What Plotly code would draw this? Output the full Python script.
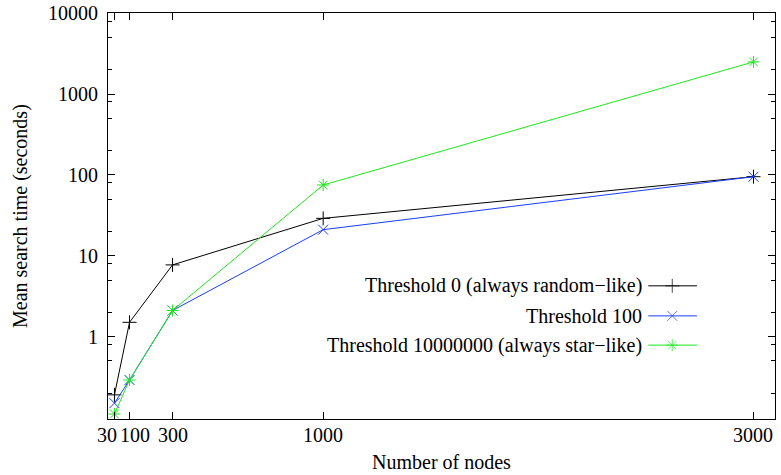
import plotly.graph_objects as go

nodes = [30, 100, 300, 1000, 3000]
thr0 = [0.19, 1.5, 7.7, 29, 95]
thr100 = [0.15, 0.29, 2.1, 21, 95]
thr1e7 = [0.11, 0.29, 2.1, 75, 2500]
names = ["Threshold 0 (always random\u2212like)", "Threshold 100",
         "Threshold 10000000 (always star\u2212like)"]
colors = ["#000000", "#1a3cff", "#1ee61e"]
symbols = ["cross-thin", "x-thin", "asterisk"]
xticks = [30, 100, 300, 1000, 3000]
xlabels = ["30", "100", "300", "1000", "3000"]
yticks = [1, 10, 100, 1000, 10000]

FONT = "Liberation Serif"
FS = 20
fig = go.Figure()
for ys, nm, c, s in zip([thr0, thr100, thr1e7], names, colors, symbols):
    fig.add_trace(go.Scatter(x=nodes, y=ys, mode="lines+markers", name=nm,
                             line=dict(color=c, width=1),
                             marker=dict(symbol=s, size=10, color=c,
                                         line=dict(color=c, width=1)),
                             showlegend=False))

# custom gnuplot-style key (text right, sample to its right)
key_y = [0.328, 0.254, 0.182]
for nm, c, s, ky in zip(names, colors, symbols, key_y):
    fig.add_trace(go.Scatter(x=[0.81, 0.846, 0.883], y=[ky, ky, ky],
                             xaxis="x2", yaxis="y2", mode="lines+markers",
                             line=dict(color=c, width=1),
                             marker=dict(symbol=s, size=[0, 10, 0], color=c,
                                         line=dict(color=c, width=1)),
                             showlegend=False, hoverinfo="skip"))
    fig.add_annotation(x=0.803, y=ky, xref="x2", yref="y2", text=nm,
                       showarrow=False, xanchor="right", yanchor="middle",
                       font=dict(family=FONT, size=FS, color="black"))

# x tick labels (gnuplot-like placement, "30" and "100" nudged apart)
anchors = {30: ("right", 5), 100: ("left", -12)}
for v, lab in zip(xticks, xlabels):
    xa, xs = anchors.get(v, ("center", 0))
    fig.add_annotation(x=v, y=0, xref="x", yref="paper", text=lab, showarrow=False,
                       xanchor=xa, xshift=xs, yanchor="middle", yshift=-16,
                       font=dict(family=FONT, size=FS, color="black"))
fig.add_annotation(x=0.5, y=0, xref="paper", yref="paper", text="Number of nodes",
                   showarrow=False, xanchor="center", yanchor="middle", yshift=-43,
                   font=dict(family=FONT, size=FS, color="black"))
fig.add_annotation(x=0, y=0.5, xref="paper", yref="paper",
                   text="Mean search time (seconds)", textangle=-90,
                   showarrow=False, xanchor="center", yanchor="middle", xshift=-88,
                   font=dict(family=FONT, size=FS, color="black"))

axis_common = dict(showline=True, linecolor="black", linewidth=1, mirror="ticks",
                   ticks="inside", ticklen=7, tickcolor="black", tickwidth=1,
                   showgrid=False, zeroline=False, automargin=False,
                   tickfont=dict(family=FONT, size=FS, color="black"))
fig.update_layout(
    width=781, height=475,
    margin=dict(l=108, r=6, t=13, b=56),
    plot_bgcolor="white", paper_bgcolor="white",
    xaxis=dict(range=[0, 3100], tickmode="array", tickvals=xticks,
               showticklabels=False, **axis_common),
    yaxis=dict(type="log", range=[-1.02, 4.003], tickmode="array", tickvals=yticks,
               ticktext=[str(v) for v in yticks], ticklabelstandoff=5,
               ticklabeloverflow="allow",
               minor=dict(ticks="inside", ticklen=4, tickcolor="black",
                          tickvals=[m * 10 ** k for k in range(-1, 4) for m in (2, 5, 8)]),
               **axis_common),
    xaxis2=dict(overlaying="x", range=[0, 1], visible=False),
    yaxis2=dict(overlaying="y", range=[0, 1], visible=False),
)
fig.write_html("out.html", config={"displayModeBar": False},
               post_script="document.body.style.margin='0px';")
